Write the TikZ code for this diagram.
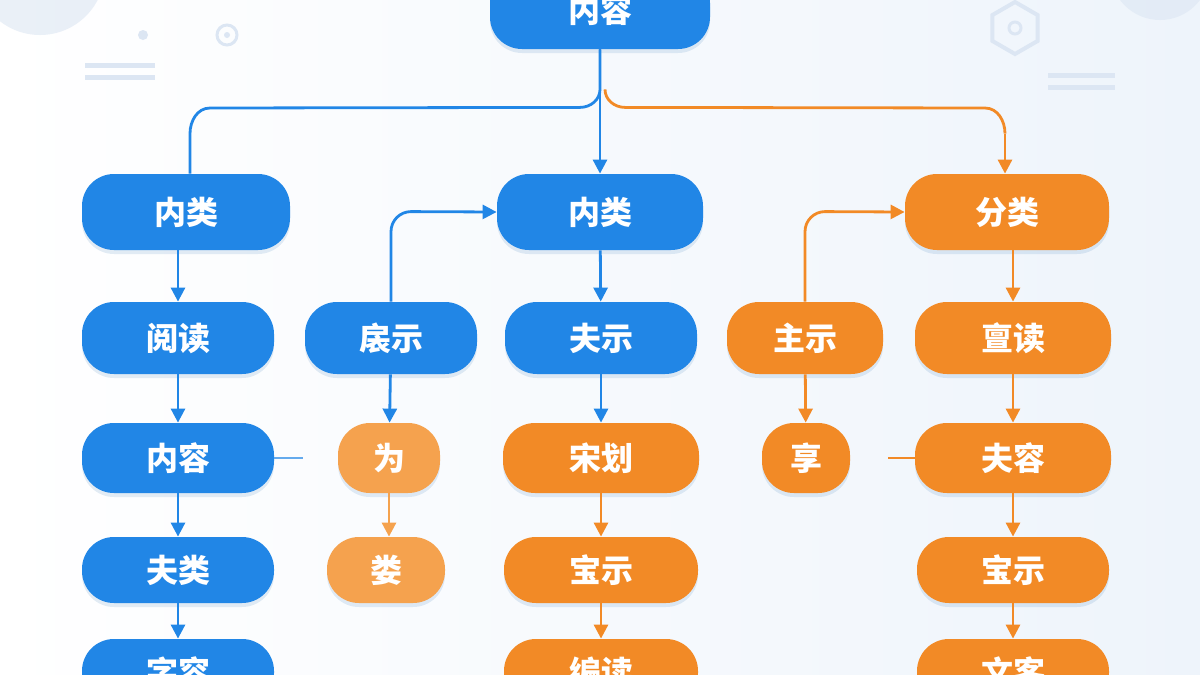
\documentclass[tikz,border=0pt]{standalone}
\usepackage{fontspec}
\setmainfont{Noto Sans CJK SC}
\usetikzlibrary{arrows.meta,shapes.geometric,calc}
\definecolor{cb}{HTML}{2186E6}
\definecolor{co}{HTML}{F28A26}
\definecolor{cl}{HTML}{F5A24E}
\definecolor{deco}{HTML}{DCE6F3}
\begin{document}
\begin{tikzpicture}[x=0.5pt,y=-0.5pt,
 pill/.style={draw=none,text=white,rounded corners=16pt,inner sep=0pt,font=\fontsize{16}{19}\selectfont\bfseries,
   preaction={fill=black!25!cb,opacity=0.12,transform canvas={yshift=-2pt}}},
 B/.style={pill,fill=cb},
 O/.style={pill,fill=co},
 L/.style={pill,fill=cl},
 ab/.style={draw=cb,line width=1.4pt,-{Triangle[length=7pt,width=7pt]}},
 ao/.style={draw=co,line width=1.4pt,-{Triangle[length=7pt,width=7pt]}},
 al/.style={draw=cl,line width=1.4pt,-{Triangle[length=7pt,width=7pt]}}]
\useasboundingbox (0,0) rectangle (1200,675);
\shade[left color=white,right color={rgb,255:red,238;green,244;blue,251}] (0,0) rectangle (1200,675);
% decorations
\fill[deco,opacity=0.6] (40,-30) circle (65);
\fill[deco,opacity=0.6] (1160,-30) circle (50);
\fill[deco] (143,35) circle (5);
\draw[deco,line width=1.5pt] (227,35) circle (10);
\fill[deco] (227,35) circle (3);
\draw[deco,line width=2.5pt] (85,65) -- (155,65) (85,77) -- (155,77);
\draw[deco,line width=2.5pt] (1048,75) -- (1115,75) (1048,87) -- (1115,87);
\node[regular polygon,regular polygon sides=6,rotate=30,draw=deco,line width=2pt,minimum size=26] (hex) at (1015,28) {};
\draw[deco,line width=1.5pt] (1015,28) circle (6);
% nodes
\node[B,minimum width=110pt,minimum height=39pt] (top) at (600,10) {内容};
\node[B,minimum width=104pt,minimum height=38pt] (a1) at (186,212) {内类};
\node[B,minimum width=103pt,minimum height=38pt] (b1) at (600,212) {内类};
\node[O,minimum width=102pt,minimum height=38pt] (c1) at (1007,212) {分类};
\node[B,minimum width=96pt,minimum height=36pt] (a2) at (178,338) {阅读};
\node[B,minimum width=86pt,minimum height=36pt] (s2) at (391,338) {扆示};
\node[B,minimum width=96pt,minimum height=36pt] (b2) at (601,338) {夫示};
\node[O,minimum width=78pt,minimum height=36pt] (t2) at (805,338) {主示};
\node[O,minimum width=98pt,minimum height=36pt] (c2) at (1013,338) {亶读};
\node[B,minimum width=96pt,minimum height=35pt] (a3) at (178,458) {内容};
\node[L,minimum width=51pt,minimum height=35pt] (s3) at (389,458) {为};
\node[O,minimum width=98pt,minimum height=35pt] (b3) at (601,458) {宋划};
\node[O,minimum width=44pt,minimum height=35pt] (t3) at (806,458) {享};
\node[O,minimum width=98pt,minimum height=35pt] (c3) at (1013,458) {夫容};
\node[B,minimum width=96pt,minimum height=33pt] (a4) at (178,570) {夫类};
\node[L,minimum width=59pt,minimum height=33pt] (s4) at (386,570) {娄};
\node[O,minimum width=97pt,minimum height=33pt] (b4) at (601,570) {宝示};
\node[O,minimum width=96pt,minimum height=33pt] (c4) at (1013,570) {宝示};
\node[B,minimum width=96pt,minimum height=33pt] (a5) at (178,672) {字容};
\node[O,minimum width=97pt,minimum height=33pt] (b5) at (601,672) {编读};
\node[O,minimum width=96pt,minimum height=33pt] (c5) at (1013,672) {文客};
% connectors
\draw[cb,line width=1.4pt] (top.south) -- ++(0,40) to[out=-90,in=0] ++(-20,18) -- (210,108) to[out=180,in=90] ($(a1.north)+(4,-40)$) -- ($(a1.north)+(4,0)$);
\draw[ab] (top.south) -- (b1.north);
\draw[co,line width=1.4pt] ($(top.south)+(5,40)$) to[out=-90,in=180] ++(20,18) -- (985,108) to[out=0,in=90] ($(c1.north)+(-2,-40)$);
\draw[ao] ($(c1.north)+(-2,-40)$) -- ($(c1.north)+(-2,0)$);
\draw[ab] (s2.north) -- ++(0,-70) to[out=90,in=180] ++(20,-20) -- (b1.west);
\draw[ao] (t2.north) -- ++(0,-70) to[out=90,in=180] ++(20,-20) -- (c1.west);
\draw[ab] (a1.south -| a2) -- (a2.north);
\draw[ab] (b1) -- (b2);
\draw[ao] (c1.south -| c2) -- (c2.north);
\draw[ab] (a2) -- (a3);
\draw[ab] (s2) -- (s3);
\draw[ab] (b2) -- (b3);
\draw[ao] (t2) -- (t3);
\draw[ao] (c2) -- (c3);
\draw[ab] (a3) -- (a4);
\draw[al] (s3) -- (s3 |- s4.north);
\draw[ao] (b3) -- (b4);
\draw[ao] (c3) -- (c4);
\draw[ab] (a4) -- (a5);
\draw[ao] (b4) -- (b5);
\draw[ao] (c4) -- (c5);
\coordinate (sa) at (303,458);
\coordinate (sc) at (888,458);
\draw[cb!70,line width=1.4pt] (a3.east) -- (sa);
\draw[co,line width=1.4pt] (c3.west) -- (sc);
\end{tikzpicture}
\end{document}
